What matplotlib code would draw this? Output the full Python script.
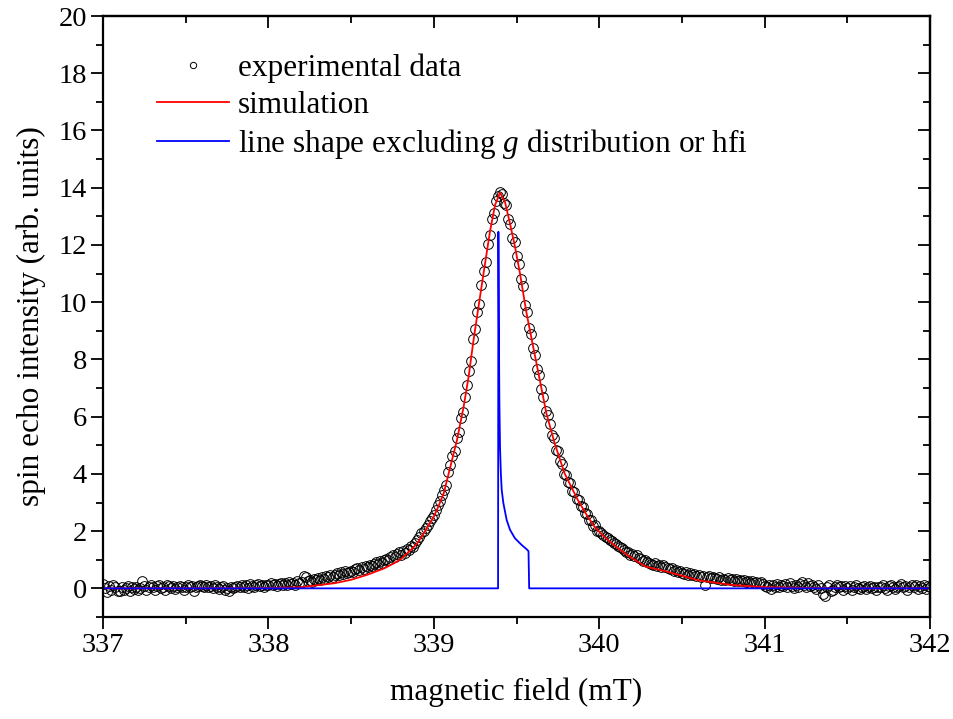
import numpy as np
import matplotlib
matplotlib.use("Agg")
import matplotlib.pyplot as plt
from matplotlib.ticker import MultipleLocator

plt.rcParams['font.family'] = ['Liberation Serif', 'DejaVu Serif']
plt.rcParams['mathtext.fontset'] = 'custom'
plt.rcParams['mathtext.rm'] = 'Liberation Serif'
plt.rcParams['mathtext.it'] = 'Liberation Serif:italic'
plt.rcParams['font.size'] = 20.5

# field sweep: 337.0 ... 342.0 mT in 0.0125 mT steps (401 points)
field = np.round(337.0 + 0.0125 * np.arange(401), 4)

# measured spin echo intensity, one row per 0.1 mT
echo = [
    0.15, 0.02, -0.12, 0.08, -0.05, 0.10, 0.03, -0.08,
    -0.10, 0.05, -0.06, 0.00, 0.07, -0.09, 0.04, -0.03,
    0.06, -0.07, 0.02, 0.26, 0.09, -0.04, 0.05, 0.11,
    0.03, -0.06, 0.08, 0.12, 0.02, 0.06, -0.05, 0.10,
    0.07, 0.01, 0.09, -0.02, 0.05, 0.08, 0.03, -0.04,
    0.06, 0.10, 0.04, 0.08, -0.08, 0.05, 0.09, 0.12,
    0.07, 0.03, 0.10, 0.05, 0.08, 0.02, 0.11, 0.06,
    -0.03, 0.04, 0.09, -0.06, 0.02, -0.08, 0.05, 0.01,
    0.04, 0.08, 0.03, 0.12, 0.06, 0.10, 0.02, 0.14,
    0.09, 0.05, 0.12, 0.15, 0.07, 0.11, 0.04, 0.13,
    0.12, 0.18, 0.10, 0.16, 0.08, 0.14, 0.20, 0.11,
    0.17, 0.13, 0.22, 0.15, 0.19, 0.12, 0.24, 0.18,
    0.21, 0.42, 0.38, 0.25, 0.30, 0.22, 0.33, 0.28,
    0.36, 0.30, 0.41, 0.34, 0.44, 0.38, 0.47, 0.40,
    0.45, 0.52, 0.48, 0.56, 0.50, 0.60, 0.54, 0.58,
    0.62, 0.57, 0.66, 0.70, 0.64, 0.73, 0.69, 0.78,
    0.75, 0.82, 0.79, 0.86, 0.91, 0.84, 0.95, 0.90,
    0.98, 1.04, 1.00, 1.10, 1.15, 1.08, 1.20, 1.26,
    1.18, 1.30, 1.25, 1.38, 1.35, 1.48, 1.45, 1.60,
    1.70, 1.78, 1.92, 2.00, 2.12, 2.20, 2.35, 2.45,
    2.55, 2.75, 2.90, 3.05, 3.25, 3.45, 3.62, 4.05,
    4.30, 4.62, 4.80, 5.25, 5.45, 5.95, 6.15, 6.70,
    7.10, 7.60, 7.95, 8.70, 9.05, 9.65, 9.95, 10.60,
    11.10, 11.40, 12.05, 12.35, 12.90, 13.10, 13.55, 13.70,
    13.85, 13.78, 13.45, 13.40, 12.90, 12.75, 12.25, 12.10,
    11.60, 11.35, 10.80, 10.55, 9.90, 9.65, 9.10, 8.90,
    8.40, 8.15, 7.65, 7.45, 6.95, 6.70, 6.20, 6.05,
    5.75, 5.35, 5.25, 4.85, 4.80, 4.45, 4.35, 4.00,
    3.95, 3.70, 3.68, 3.40, 3.38, 3.12, 3.10, 2.88,
    2.85, 2.62, 2.60, 2.40, 2.38, 2.18, 2.20, 2.02,
    2.02, 1.95, 1.88, 1.80, 1.76, 1.70, 1.66, 1.58,
    1.55, 1.48, 1.44, 1.40, 1.34, 1.28, 1.26, 1.18,
    1.20, 1.12, 1.15, 1.05, 1.02, 0.96, 1.00, 0.92,
    0.90, 0.86, 0.80, 0.88, 0.78, 0.82, 0.74, 0.80,
    0.75, 0.70, 0.66, 0.72, 0.62, 0.65, 0.58, 0.60,
    0.55, 0.50, 0.56, 0.48, 0.52, 0.45, 0.50, 0.44,
    0.46, 0.40, 0.44, 0.12, 0.38, 0.42, 0.35, 0.40,
    0.36, 0.32, 0.38, 0.30, 0.34, 0.28, 0.35, 0.30,
    0.33, 0.27, 0.31, 0.25, 0.30, 0.24, 0.28, 0.22,
    0.26, 0.20, 0.25, 0.18, 0.23, 0.17, 0.21, 0.15,
    0.08, 0.04, 0.12, -0.02, 0.10, 0.06, 0.14, 0.03,
    0.11, 0.07, 0.16, 0.05, 0.18, 0.09, 0.02, 0.13,
    0.06, 0.15, 0.21, 0.10, 0.04, 0.17, 0.08, 0.12,
    0.05, -0.03, 0.10, 0.02, -0.18, -0.25, 0.04, 0.11,
    -0.10, -0.05, 0.06, 0.12, 0.03, 0.08, -0.04, 0.09,
    0.02, 0.07, -0.06, 0.05, 0.10, 0.01, -0.02, 0.06,
    0.08, -0.03, 0.04, 0.09, 0.00, 0.05, -0.07, 0.03,
    0.06, 0.10, 0.02, -0.04, 0.07, 0.12, 0.04, -0.02,
    0.05, 0.09, 0.14, 0.03, 0.08, -0.05, 0.06, 0.11,
    0.04, 0.10, -0.03, 0.07, 0.02, 0.12, -0.02, 0.08,
    0.05,
]

# simulated line shape
sim_field = [337.0, 337.5, 338.0, 338.2, 338.4, 338.5, 338.6, 338.7, 338.76,
             338.8, 338.86, 338.9, 338.94, 339.0, 339.03, 339.06, 339.1,
             339.14, 339.18, 339.21, 339.24, 339.27, 339.30, 339.34, 339.37,
             339.40, 339.43, 339.46, 339.49, 339.52, 339.56, 339.60, 339.64,
             339.68, 339.73, 339.79, 339.87, 339.92, 339.97, 340.03, 340.10,
             340.18, 340.28, 340.4, 340.6, 340.8, 341.0, 341.3, 341.6, 342.0]
sim_int = [0.0, 0.0, 0.01, 0.04, 0.18, 0.30, 0.48, 0.70, 0.88,
           1.02, 1.34, 1.58, 1.93, 2.51, 2.90, 3.33, 4.26,
           5.19, 6.35, 7.40, 8.69, 9.85, 11.0, 12.5, 13.4,
           13.83, 13.5, 12.75, 11.95, 11.02, 9.62, 8.45, 7.29,
           6.12, 5.07, 4.02, 3.09, 2.60, 2.16, 1.80, 1.46,
           1.12, 0.76, 0.60, 0.28, 0.12, 0.04, 0.01, 0.0, 0.0]

# intrinsic line shape without g distribution / hfi
bare_field = [337.0, 339.388, 339.390, 339.393, 339.396, 339.40, 339.405,
              339.41, 339.42, 339.44, 339.46, 339.49, 339.53, 339.56,
              339.572, 339.576, 342.0]
bare_int = [0.0, 0.0, 12.46, 9.0, 6.5, 4.9, 4.0,
            3.44, 2.98, 2.39, 2.05, 1.75, 1.52, 1.37,
            1.30, 0.0, 0.0]

fig = plt.figure(figsize=(9.54, 7.19), dpi=100)
ax = fig.add_axes([0.108, 0.1419, 0.867, 0.8358])

ax.plot(field, echo, 'o', mfc='none', mec='black', ms=7, mew=0.7,
        label='experimental data')
ax.plot(sim_field, sim_int, '-', color='red', lw=1.3, label='simulation')
ax.plot(bare_field, bare_int, '-', color='blue', lw=1.3,
        label='line shape excluding $g$ distribution or hfi')

ax.set_xlim(337, 342)
ax.set_ylim(-1, 20)
ax.xaxis.set_major_locator(MultipleLocator(1))
ax.xaxis.set_minor_locator(MultipleLocator(0.5))
ax.yaxis.set_major_locator(MultipleLocator(2))
ax.yaxis.set_minor_locator(MultipleLocator(1))
ax.tick_params(which='both', direction='out', width=1.3, pad=3)
ax.tick_params(which='major', length=8.5)
ax.tick_params(which='minor', length=5)
for s in ax.spines.values():
    s.set_linewidth(1.6)

top = ax.secondary_xaxis('top')
top.xaxis.set_major_locator(MultipleLocator(1))
top.xaxis.set_minor_locator(MultipleLocator(0.5))
top.tick_params(which='both', direction='in', width=1.3, labeltop=False)
top.tick_params(which='major', length=8.5)
top.tick_params(which='minor', length=5)
right = ax.secondary_yaxis('right')
right.yaxis.set_major_locator(MultipleLocator(2))
right.yaxis.set_minor_locator(MultipleLocator(1))
right.tick_params(which='both', direction='in', width=1.3, labelright=False)
right.tick_params(which='major', length=8.5)
right.tick_params(which='minor', length=5)
for sec in (top, right):
    for s in sec.spines.values():
        s.set_linewidth(1.6)

ax.set_xlabel('magnetic field (mT)', fontsize=22.5, labelpad=14)
ax.set_ylabel('spin echo intensity (arb. units)', fontsize=22.5, labelpad=9)

ax.legend(loc='upper left', bbox_to_anchor=(0.065, 0.937), frameon=False,
          fontsize=22.5, borderpad=0, borderaxespad=0, handlelength=2.3,
          handletextpad=0.3, labelspacing=0.24, markerscale=0.65)

fig.savefig('out.png', dpi=100)
